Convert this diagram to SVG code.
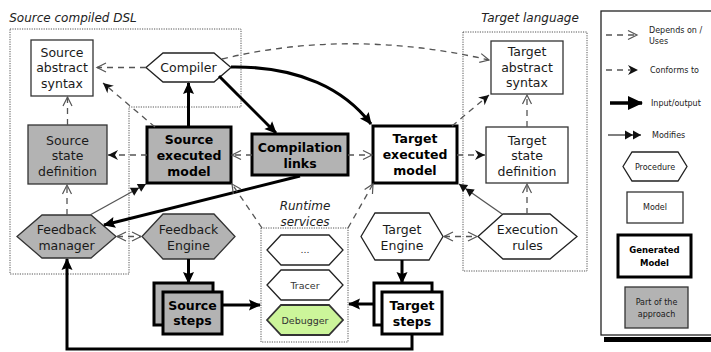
<svg xmlns="http://www.w3.org/2000/svg" width="711" height="352" viewBox="0 0 711 352">
<style>
text{font-family:"DejaVu Sans","Liberation Sans",sans-serif;fill:#1a1a1a;text-anchor:middle}
.t{font-size:12.5px}
.b{font-size:12.5px;font-weight:bold;fill:#000}
.it{font-size:12px;font-style:italic;fill:#222}
.lg{font-size:8px;text-anchor:start}
.ls{font-size:8px}
.lb{font-size:8.5px;font-weight:bold;fill:#000}
.sm{font-size:9.5px;fill:#333}
.region{fill:none;stroke:#555;stroke-width:1;stroke-dasharray:1.2,1.2}
.model{fill:#fff;stroke:#333;stroke-width:1.3}
.gmodel{fill:#b3b3b3;stroke:#333;stroke-width:1.3}
.gen{fill:#fff;stroke:#000;stroke-width:3}
.ggen{fill:#b3b3b3;stroke:#000;stroke-width:3}
.proc{fill:#fff;stroke:#222;stroke-width:1.3}
.gproc{fill:#b3b3b3;stroke:#333;stroke-width:1.3}
.dep{fill:none;stroke:#555;stroke-width:1.3;stroke-dasharray:6,5;marker-end:url(#mOpen)}
.bi{marker-start:url(#mOpen)}
.conf{fill:none;stroke:#555;stroke-width:1.3;stroke-dasharray:6,5;marker-end:url(#mConf)}
.io{fill:none;stroke:#000;stroke-width:3;marker-end:url(#mIO)}
.mod{fill:none;stroke:#555;stroke-width:1.3;marker-end:url(#mMod)}
</style>
<defs>
<marker id="mOpen" markerUnits="userSpaceOnUse" markerWidth="12" markerHeight="12" refX="9" refY="5" orient="auto-start-reverse" overflow="visible">
<path d="M0,0.5 L9,5 L0,9.5" fill="none" stroke="#555" stroke-width="1.2"/>
</marker>
<marker id="mConf" markerUnits="userSpaceOnUse" markerWidth="12" markerHeight="12" refX="10" refY="5" orient="auto" overflow="visible">
<path d="M0,0 L10,5 L0,10 L3,5 Z" fill="#111"/>
</marker>
<marker id="mIO" markerUnits="userSpaceOnUse" markerWidth="14" markerHeight="14" refX="11" refY="5.5" orient="auto" overflow="visible">
<path d="M0,0 L12,5.5 L0,11 L2,5.5 Z" fill="#000"/>
</marker>
<marker id="mIOL" markerUnits="userSpaceOnUse" markerWidth="16" markerHeight="16" refX="14" refY="7" orient="auto" overflow="visible">
<path d="M0,0 L15,7 L0,14 Z" fill="#000"/>
</marker>
<marker id="mMod" markerUnits="userSpaceOnUse" markerWidth="18" markerHeight="10" refX="16" refY="4.5" orient="auto" overflow="visible">
<path d="M0,0 L8,4.5 L0,9 Z M8,0 L16,4.5 L8,9 Z" fill="#111"/>
</marker>
</defs>

<g id="regions">
<text class="it" x="73" y="22">Source compiled DSL</text>
<path class="region" d="M10,29 H241 V107 H129 V274 H10 Z"/>
<text class="it" x="530" y="22">Target language</text>
<rect class="region" x="463" y="32" width="124" height="239"/>
<text class="it" x="305" y="210">Runtime</text>
<text class="it" x="305" y="226">services</text>
<rect class="region" x="261" y="228" width="87" height="114"/>
</g>

<g id="node-source-abstract-syntax">
<rect class="model" x="31" y="40" width="62" height="56"/>
<text class="t"><tspan x="62" y="56.5">Source</tspan><tspan x="62" y="72">abstract</tspan><tspan x="62" y="87.5">syntax</tspan></text>
</g>
<g id="node-compiler">
<polygon class="proc" points="146,67.5 163,53 214,53 231,67.5 214,82 163,82"/>
<text class="t" x="188.5" y="72">Compiler</text>
</g>
<g id="node-source-state-definition">
<rect class="gmodel" x="28" y="125" width="79" height="59"/>
<text class="t"><tspan x="67.5" y="144.5">Source</tspan><tspan x="67.5" y="160">state</tspan><tspan x="67.5" y="175.5">definition</tspan></text>
</g>
<g id="node-source-executed-model">
<rect class="ggen" x="147" y="127" width="84" height="56"/>
<text class="b"><tspan x="189" y="143.5">Source</tspan><tspan x="189" y="159.5">executed</tspan><tspan x="189" y="175.5">model</tspan></text>
</g>
<g id="node-compilation-links">
<rect class="ggen" x="252" y="134" width="96" height="41"/>
<text class="b"><tspan x="300" y="151.5">Compilation</tspan><tspan x="300" y="167.5">links</tspan></text>
</g>
<g id="node-target-executed-model">
<rect class="gen" x="373" y="126" width="84" height="57"/>
<text class="b"><tspan x="415" y="142.5">Target</tspan><tspan x="415" y="159">executed</tspan><tspan x="415" y="175">model</tspan></text>
</g>
<g id="node-target-abstract-syntax">
<rect class="model" x="491" y="41" width="72" height="53"/>
<text class="t"><tspan x="527" y="56">Target</tspan><tspan x="527" y="71.5">abstract</tspan><tspan x="527" y="86.5">syntax</tspan></text>
</g>
<g id="node-target-state-definition">
<rect class="model" x="486" y="127" width="82" height="56"/>
<text class="t"><tspan x="527" y="144.5">Target</tspan><tspan x="527" y="160">state</tspan><tspan x="527" y="175.5">definition</tspan></text>
</g>
<g id="node-feedback-manager">
<polygon class="gproc" points="17,236.5 42,215 91,215 116,236.5 91,258 42,258"/>
<text class="t"><tspan x="66.5" y="233.5">Feedback</tspan><tspan x="66.5" y="249.5">manager</tspan></text>
</g>
<g id="node-feedback-engine">
<polygon class="gproc" points="142,236.5 163,214 214,214 235,236.5 214,259 163,259"/>
<text class="t"><tspan x="188.5" y="233.5">Feedback</tspan><tspan x="188.5" y="249.5">Engine</tspan></text>
</g>
<g id="node-source-steps">
<rect class="ggen" x="154" y="283" width="59" height="42"/>
<rect class="ggen" x="163" y="292" width="59" height="42"/>
<text class="b"><tspan x="192.5" y="310">Source</tspan><tspan x="192.5" y="325">steps</tspan></text>
</g>
<g id="node-ellipsis">
<polygon class="proc" points="267,250 281,235 329,235 343,250 329,265 281,265"/>
<text class="sm" x="305" y="253">...</text>
</g>
<g id="node-tracer">
<polygon class="proc" points="267,285 281,270 329,270 343,285 329,300 281,300"/>
<text class="sm" x="305" y="288.5">Tracer</text>
</g>
<g id="node-debugger">
<polygon points="267,320 281,305 329,305 343,320 329,335 281,335" fill="#ccf59a" stroke="#333" stroke-width="1.8"/>
<text class="sm" x="305" y="323.5">Debugger</text>
</g>
<g id="node-target-engine">
<polygon class="proc" points="361,236.5 375,213 429,213 443,236.5 429,260 375,260"/>
<text class="t"><tspan x="402" y="233.5">Target</tspan><tspan x="402" y="249.5">Engine</tspan></text>
</g>
<g id="node-target-steps">
<rect class="gen" x="374" y="283" width="58" height="42"/>
<rect class="gen" x="382" y="292" width="60" height="42"/>
<text class="b"><tspan x="412" y="310">Target</tspan><tspan x="412" y="326">steps</tspan></text>
</g>
<g id="node-execution-rules">
<polygon class="proc" points="478,236.5 503,214 550,214 577,236.5 550,259 503,259"/>
<text class="t"><tspan x="527.5" y="233.5">Execution</tspan><tspan x="527.5" y="249.5">rules</tspan></text>
</g>

<g id="connectors">
<path class="dep" d="M146,67.5 L97,67.5"/>
<path class="dep" d="M222,59 Q350,28 489,60"/>
<path class="io" d="M231,67 C300,66 345,90 371,124"/>
<path class="io" d="M219,76 L276,133"/>
<path class="io" d="M188.5,127 L188.5,83"/>
<path class="conf" d="M155,127 L103,83"/>
<path class="conf" d="M147,155 L108,155"/>
<path class="dep" d="M67.5,125 L67.5,97"/>
<path class="dep" d="M67,215 L67,185"/>
<path class="dep" d="M252,155 L232,155"/>
<path class="dep" d="M348,155 L372,155"/>
<path class="conf" d="M457,155 L485,155"/>
<path class="conf" d="M452,126 L489,95"/>
<path class="dep" d="M527,127 L527,95"/>
<path class="dep" d="M527,214 L527,184"/>
<path class="mod" d="M502,214 L459,184"/>
<path class="dep bi" d="M444,236.5 L477,236.5"/>
<path class="dep bi" d="M117,236.5 L141,236.5"/>
<path class="mod" d="M90,215 L146,184"/>
<path class="io" d="M300,176 L104,225"/>
<path class="dep" d="M262,228 L232,184"/>
<path class="dep" d="M348,228 L373,184"/>
<path class="io" d="M188.5,259 L188.5,283"/>
<path class="io" d="M222,305 L260,305"/>
<path class="io" d="M402,260 L402,283"/>
<path class="io" d="M374,304 L349,304"/>
<path class="io" d="M412,334 L412,349 L67,349 L67,259"/>
</g>

<g id="legend">
<rect x="604" y="337" width="110" height="5" fill="#000"/>
<rect x="601" y="11" width="120" height="324" fill="#fff" stroke="#222" stroke-width="1.3"/>
<path class="dep" d="M606,35 L637,35"/>
<text class="lg"><tspan x="649" y="33">Depends on /</tspan><tspan x="649" y="44">Uses</tspan></text>
<path class="conf" d="M606,70 L638,70"/>
<text class="lg" x="650" y="73">Conforms to</text>
<path d="M610,103 L642,103" fill="none" stroke="#000" stroke-width="3.5" marker-end="url(#mIOL)"/>
<text class="lg" x="651" y="106">Input/output</text>
<path class="mod" d="M608,135 L641,135"/>
<text class="lg" x="652" y="138">Modifies</text>
<polygon class="proc" points="623,166.5 632,152 678,152 687,166.5 678,181 632,181"/>
<text class="ls" x="655" y="169.5">Procedure</text>
<rect class="model" x="627" y="192" width="56" height="31"/>
<text class="ls" x="655" y="210">Model</text>
<rect class="gen" x="618" y="235" width="73" height="42"/>
<text class="lb"><tspan x="654.5" y="253">Generated</tspan><tspan x="654.5" y="266">Model</tspan></text>
<rect class="gmodel" x="625" y="287" width="63" height="41"/>
<text class="ls"><tspan x="656.5" y="305">Part of the</tspan><tspan x="656.5" y="317">approach</tspan></text>
</g>
</svg>
